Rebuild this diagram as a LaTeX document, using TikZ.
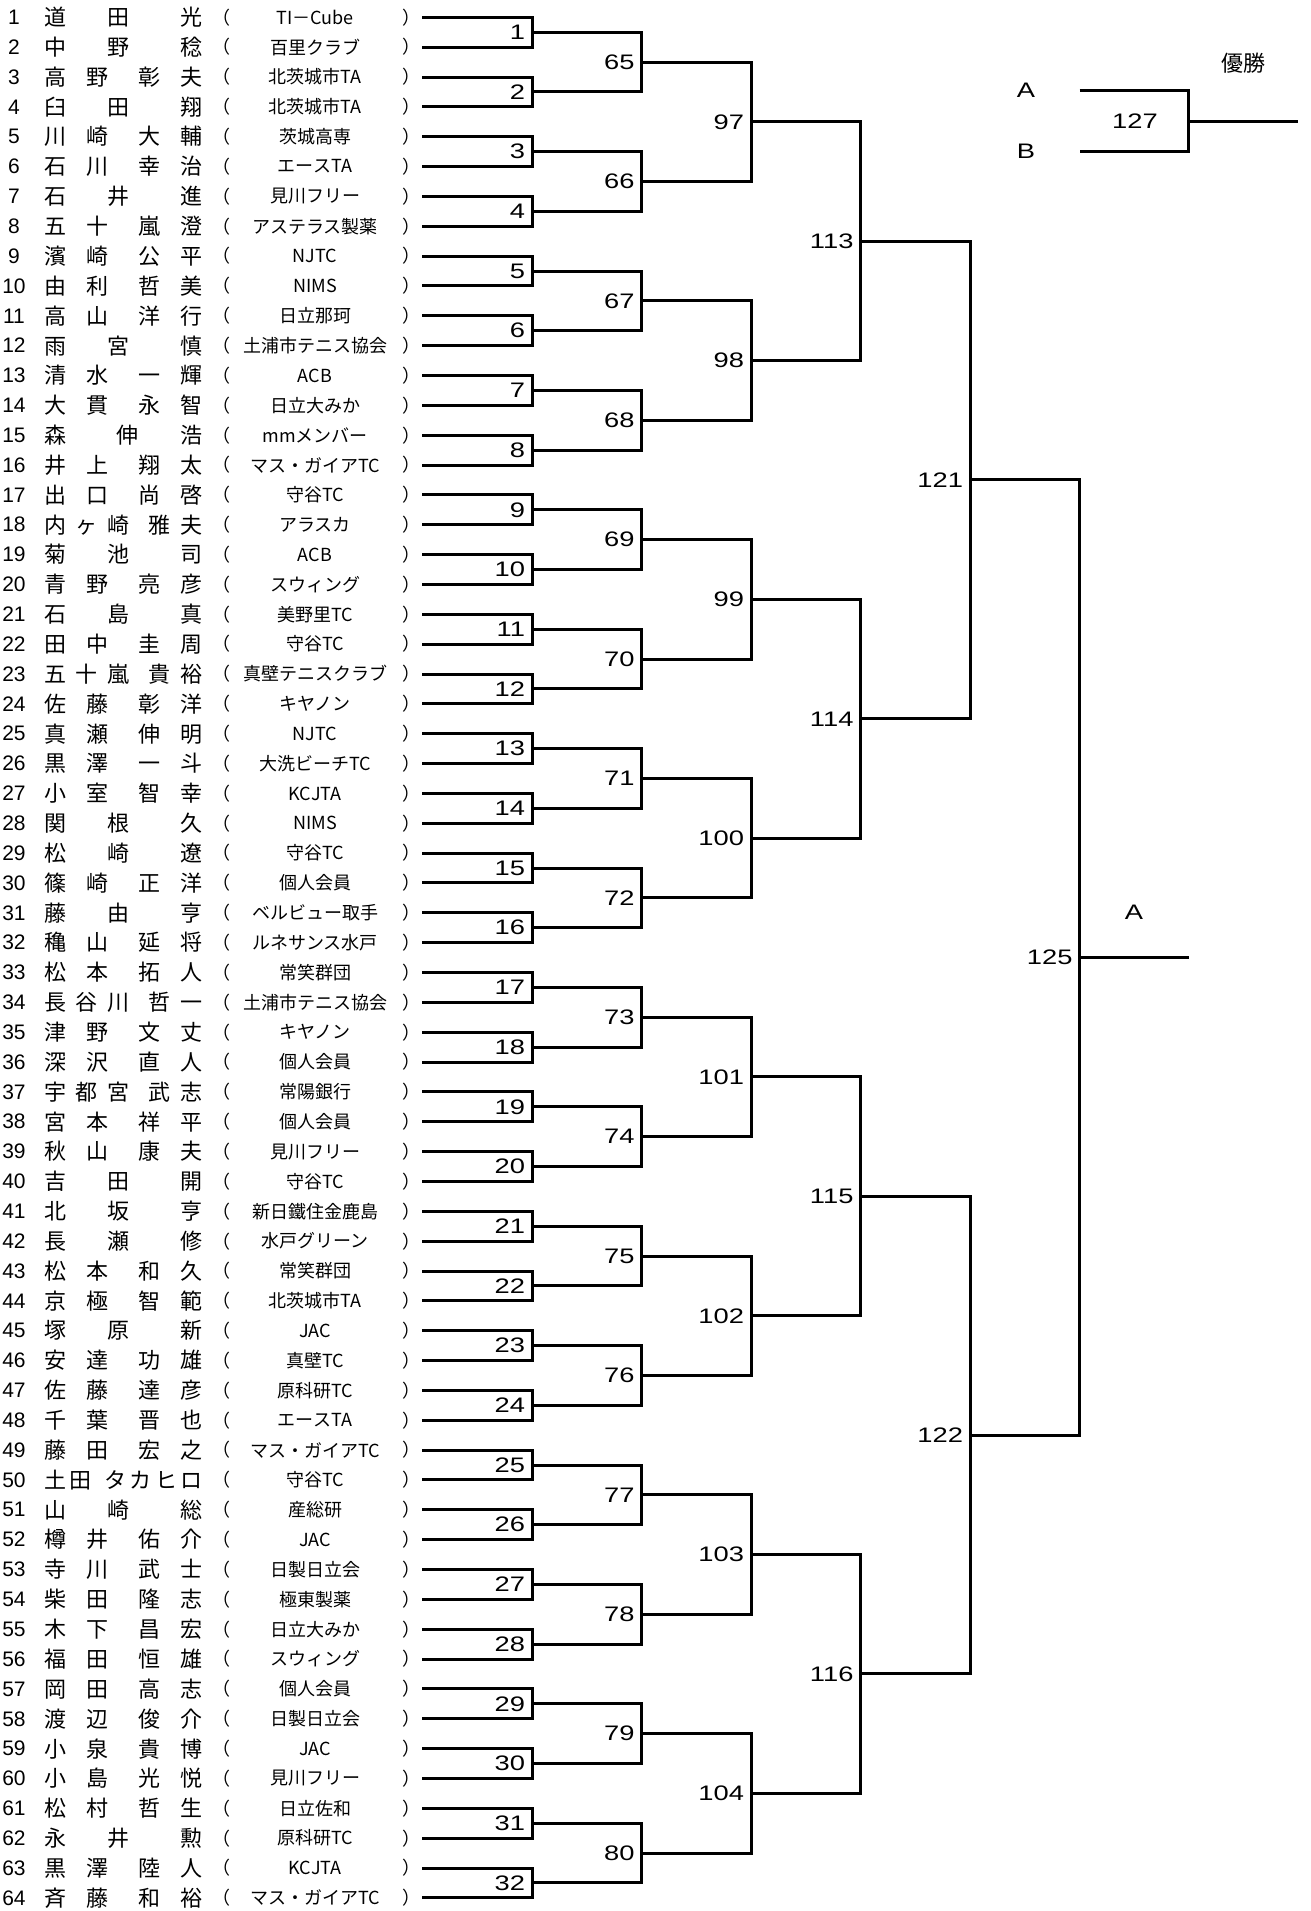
\documentclass[tikz,border=0pt]{standalone}
\usepackage{fontspec}
\setmainfont{Liberation Sans}
\newfontfamily\jp{Noto Sans CJK JP}
\usetikzlibrary{calc}

% spread the characters of a name over a fixed width
\def\spreadA#1#2{#1\ifx\relax#2\else\hfill\expandafter\spreadA\expandafter#2\fi}
\newcommand\spreadname[1]{\spreadA#1\relax}
\newcommand\fullname[2]{\makebox[79.5pt][s]{\expandafter\spreadname\expandafter{#1}\hfill\hspace{4.5pt}\expandafter\spreadname\expandafter{#2}}}

\tikzset{
  bline/.style={line width=1.5pt},
  rnum/.style={font=\fontsize{10.5}{12}\selectfont, inner sep=0pt},
  pname/.style={font=\jp\fontsize{11}{13}\selectfont, inner sep=0pt},
  club/.style={font=\jp\fontsize{9}{11}\selectfont, inner sep=0pt},
  paren/.style={font=\jp\fontsize{9}{11}\selectfont, inner sep=0pt},
  mlab/.style={font=\fontsize{10.5}{12}\selectfont, anchor=east, inner sep=2.5pt, xscale=1.3, transform shape}
}

\begin{document}
\begin{tikzpicture}[x=0.5pt, y=-0.5pt]
\useasboundingbox (0,0) rectangle (1311,1911);
% players
\foreach \i/\sei/\mei/\grp in {
  1/道田/光/TI－Cube, 2/中野/稔/百里クラブ, 3/高野/彰夫/北茨城市TA, 4/臼田/翔/北茨城市TA,
  5/川崎/大輔/茨城高専, 6/石川/幸治/エースTA, 7/石井/進/見川フリー, 8/五十/嵐澄/アステラス製薬,
  9/濱崎/公平/NJTC, 10/由利/哲美/NIMS, 11/高山/洋行/日立那珂, 12/雨宮/慎/土浦市テニス協会,
  13/清水/一輝/ACB, 14/大貫/永智/日立大みか, 15/森/伸浩/mmメンバー, 16/井上/翔太/マス・ガイアTC,
  17/出口/尚啓/守谷TC, 18/内ヶ崎/雅夫/アラスカ, 19/菊池/司/ACB, 20/青野/亮彦/スウィング,
  21/石島/真/美野里TC, 22/田中/圭周/守谷TC, 23/五十嵐/貴裕/真壁テニスクラブ, 24/佐藤/彰洋/キヤノン,
  25/真瀬/伸明/NJTC, 26/黒澤/一斗/大洗ビーチTC, 27/小室/智幸/KCJTA, 28/関根/久/NIMS,
  29/松崎/遼/守谷TC, 30/篠崎/正洋/個人会員, 31/藤由/亨/ベルビュー取手, 32/穐山/延将/ルネサンス水戸,
  33/松本/拓人/常笑群団, 34/長谷川/哲一/土浦市テニス協会, 35/津野/文丈/キヤノン, 36/深沢/直人/個人会員,
  37/宇都宮/武志/常陽銀行, 38/宮本/祥平/個人会員, 39/秋山/康夫/見川フリー, 40/吉田/開/守谷TC,
  41/北坂/亨/新日鐵住金鹿島, 42/長瀬/修/水戸グリーン, 43/松本/和久/常笑群団, 44/京極/智範/北茨城市TA,
  45/塚原/新/JAC, 46/安達/功雄/真壁TC, 47/佐藤/達彦/原科研TC, 48/千葉/晋也/エースTA,
  49/藤田/宏之/マス・ガイアTC, 50/土田/タカヒロ/守谷TC, 51/山崎/総/産総研, 52/樽井/佑介/JAC,
  53/寺川/武士/日製日立会, 54/柴田/隆志/極東製薬, 55/木下/昌宏/日立大みか, 56/福田/恒雄/スウィング,
  57/岡田/高志/個人会員, 58/渡辺/俊介/日製日立会, 59/小泉/貴博/JAC, 60/小島/光悦/見川フリー,
  61/松村/哲生/日立佐和, 62/永井/勲/原科研TC, 63/黒澤/陸人/KCJTA, 64/斉藤/和裕/マス・ガイアTC}{
  \pgfmathsetmacro\y{17.3+(\i-1)*29.85}
  \node[rnum] (n\i) at (14,\y) {\i};
  \node[pname] (p\i) at (123.5,\y) {\fullname\sei\mei};
  \node[paren] (lp\i) at (221,\y) {（};
  \node[club] (c\i) at (315,\y) {\grp};
  \node[paren] (rp\i) at (411,\y) {）};
  \coordinate (s\i) at (422,\y);
}
% first round
\foreach \k in {1,...,32}{
  \pgfmathtruncatemacro\a{2*\k-1}
  \pgfmathtruncatemacro\b{2*\k}
  \coordinate (m\k) at ($(s\a)!.5!(s\b)+(110,0)$);
  \draw[bline] (s\a) -| (m\k) |- (s\b);
  \node[mlab] (l\k) at (m\k) {\k};
}
% later rounds
\foreach \base/\prev/\n in {65/1/16, 97/65/8, 113/97/4, 121/113/2, 125/121/1}{
  \foreach \j in {1,...,\n}{
    \pgfmathtruncatemacro\k{\base+\j-1}
    \pgfmathtruncatemacro\a{\prev+2*\j-2}
    \pgfmathtruncatemacro\b{\a+1}
    \coordinate (m\k) at ($(m\a)!.5!(m\b)+(109.5,0)$);
    \draw[bline] (m\a) -| (m\k) |- (m\b);
    \node[mlab] (l\k) at (m\k) {\k};
  }
}
% block winner
\coordinate (wA) at ($(m125)+(109,0)$);
\draw[bline] (m125) -- (wA);
\node[mlab, anchor=center] (blkA) at ($(m125)!.5!(wA)+(0,-45)$) {A};
% final
\node[mlab, anchor=center] (finA) at (1026,90.7) {A};
\node[mlab, anchor=center] (finB) at (1026,151.3) {B};
\coordinate (fa) at (1079.5,90.7);
\coordinate (fb) at (1079.5,151.3);
\coordinate (fin) at (1188.5,121);
\coordinate (champ) at (1298,121);
\draw[bline] (fa) -| (fin) |- (fb);
\draw[bline] (fin) -- (champ);
\node[mlab, anchor=center] (l127) at (1135,121) {127};
\node[pname] (win) at (1243,63) {優勝};
\end{tikzpicture}
\end{document}
